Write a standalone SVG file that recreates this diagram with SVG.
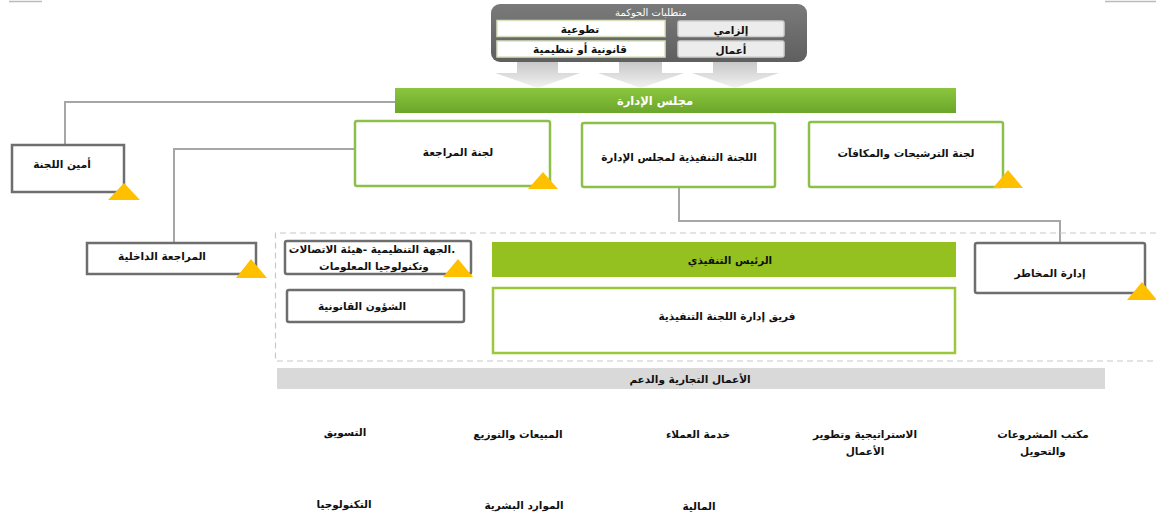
<svg xmlns="http://www.w3.org/2000/svg" width="1156" height="517" viewBox="0 0 1156 517">
<style>
.t{font-family:"DejaVu Sans","Noto Sans",sans-serif;font-size:10.5px;font-weight:bold;fill:#111;text-anchor:middle}
.w{fill:#fff}
.gbox{fill:#fff;stroke:#6e6e6e;stroke-width:2.5}
.cbox{fill:#fff;stroke:#8cc04b;stroke-width:2.5}
.tri{fill:#ffc000}
.conn{fill:none;stroke:#a6a6a6;stroke-width:2}
</style>
<defs>
<linearGradient id="arr" x1="0" y1="0" x2="0" y2="1">
<stop offset="0" stop-color="#c8c8c8"/>
<stop offset="1" stop-color="#f2f2f2"/>
</linearGradient>
<linearGradient id="gov" x1="0" y1="0" x2="0" y2="1">
<stop offset="0" stop-color="#7a7a7a"/>
<stop offset="1" stop-color="#5f5f5f"/>
</linearGradient>
<linearGradient id="board" x1="0" y1="0" x2="0" y2="1">
<stop offset="0" stop-color="#8cc63f"/>
<stop offset="1" stop-color="#6aa62a"/>
</linearGradient>
</defs>

<line x1="9" y1="1.5" x2="42" y2="1.5" stroke="#bbb" stroke-width="1.5"/>
<line x1="1105" y1="1.5" x2="1156" y2="1.5" stroke="#bbb" stroke-width="1.5"/>

<g id="governance">
<path d="M517,62 h41 v11 h22 l-42,15 l-43,-15 h22 z" fill="url(#arr)"/>
<path d="M619,62 h43 v11 h22 l-43,15 l-43,-15 h21 z" fill="url(#arr)"/>
<path d="M713,62 h44 v11 h22 l-44,15 l-43,-15 h21 z" fill="url(#arr)"/>
<rect x="491" y="4" width="316" height="58" rx="9" fill="url(#gov)"/>
<text class="t w" x="651" y="16" style="font-size:10px;font-weight:normal">متطلبات الحوكمة</text>
<rect x="497" y="20.5" width="168" height="16" fill="#fff" stroke="#d8e2bf" stroke-width="1.5"/>
<text class="t" x="580" y="33">تطوعية</text>
<rect x="497" y="41" width="168" height="16" fill="#fff" stroke="#d8e2bf" stroke-width="1.5"/>
<text class="t" x="580" y="53">قانونية أو تنظيمية</text>
<rect x="678" y="21" width="106" height="15.5" rx="2" fill="#ececec" stroke="#d0d0d0" stroke-width="1.5"/>
<text class="t" x="731" y="34">إلزامي</text>
<rect x="678" y="41" width="106" height="16" rx="2" fill="#ececec" stroke="#d0d0d0" stroke-width="1.5"/>
<text class="t" x="731" y="54">أعمال</text>
</g>

<g id="connectors">
<path class="conn" d="M395,102 H65 V145"/>
<path class="conn" d="M355,149 H174 V243"/>
<path class="conn" d="M679,188 V221 H1060 V243"/>
</g>

<g id="board-of-directors">
<rect x="395" y="88" width="561" height="25" fill="url(#board)"/>
<text class="t w" x="655" y="105" style="font-size:11.5px">مجلس الإدارة</text>
</g>

<g id="committee-secretary">
<rect class="gbox" x="12" y="145" width="112" height="47"/>
<text class="t" x="62" y="168">أمين اللجنة</text>
<polygon class="tri" points="124,183 140,200 108,200"/>
</g>

<g id="audit-committee">
<rect class="cbox" x="355" y="121" width="195" height="65" rx="2"/>
<text class="t" x="458" y="156">لجنة المراجعة</text>
<polygon class="tri" points="543,172 558,189 528,189"/>
</g>

<g id="executive-committee">
<rect class="cbox" x="582" y="123" width="193" height="64" rx="2"/>
<text class="t" x="679" y="161">اللجنة التنفيذية لمجلس الإدارة</text>
</g>

<g id="nominations-committee">
<rect class="cbox" x="809" y="122" width="194" height="65" rx="2"/>
<text class="t" x="906" y="157">لجنة الترشيحات والمكافآت</text>
<polygon class="tri" points="1008,170 1023,188 993,188"/>
</g>

<g id="internal-audit">
<rect class="gbox" x="87" y="243" width="169" height="31"/>
<text class="t" x="162" y="260">المراجعة الداخلية</text>
<polygon class="tri" points="251,259 267,278 236,278"/>
</g>

<g id="executive-area">
<path d="M1156,233 H275.5 V361 H1156" fill="none" stroke="#c8c8c8" stroke-width="1.2" stroke-dasharray="6,4"/>
</g>

<g id="regulator">
<rect class="gbox" x="285" y="241" width="186" height="33" rx="2"/>
<text class="t" x="372" y="253">الجهة التنظيمية -هيئة الاتصالات.</text>
<text class="t" x="374" y="270">وتكنولوجيا المعلومات</text>
<polygon class="tri" points="458,259 473,277 443,277"/>
</g>

<g id="legal-affairs">
<rect class="gbox" x="287" y="290" width="177" height="32" rx="2"/>
<text class="t" x="362" y="310">الشؤون القانونية</text>
</g>

<g id="ceo">
<rect x="492" y="242" width="464" height="35" fill="#94c11f"/>
<text class="t" x="730" y="264">الرئيس التنفيذي</text>
</g>

<g id="executive-team">
<rect x="493" y="288" width="462" height="65" fill="#fff" stroke="#9cc73a" stroke-width="2.5"/>
<text class="t" x="727" y="320">فريق إدارة اللجنة التنفيذية</text>
</g>

<g id="risk-management">
<rect class="gbox" x="975" y="243" width="170" height="50" rx="2"/>
<text class="t" x="1050" y="277">إدارة المخاطر</text>
<polygon class="tri" points="1142,282 1157,300 1127,300"/>
</g>

<g id="business-support">
<rect x="277" y="368" width="828" height="21" fill="#d9d9d9"/>
<text class="t" x="690" y="383">الأعمال التجارية والدعم</text>
</g>

<g id="marketing"><text class="t" x="345" y="436">التسويق</text></g>
<g id="sales"><text class="t" x="518" y="438">المبيعات والتوزيع</text></g>
<g id="customer-service"><text class="t" x="698" y="438">خدمة العملاء</text></g>
<g id="strategy"><text class="t" x="865" y="438">الاستراتيجية وتطوير</text><text class="t" x="865" y="455">الأعمال</text></g>
<g id="pmo"><text class="t" x="1043" y="438">مكتب المشروعات</text><text class="t" x="1043" y="455">والتحويل</text></g>
<g id="technology"><text class="t" x="344" y="508">التكنولوجيا</text></g>
<g id="hr"><text class="t" x="524" y="509">الموارد البشرية</text></g>
<g id="finance"><text class="t" x="699" y="510">المالية</text></g>
</svg>
